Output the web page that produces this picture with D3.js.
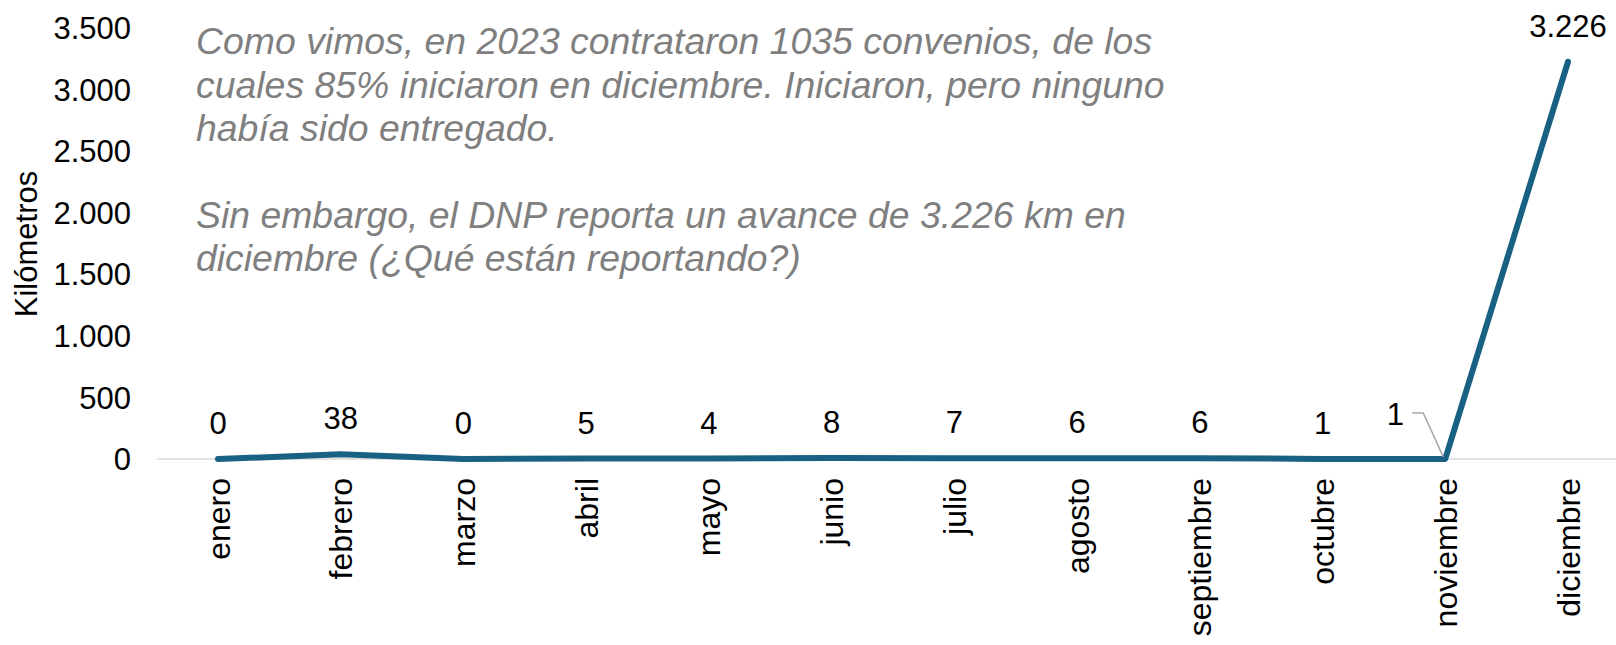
<!DOCTYPE html>
<html>
<head>
<meta charset="utf-8">
<script src="https://cdn.jsdelivr.net/npm/d3@7"></script>
<style>
  html, body { margin: 0; padding: 0; background: #fff; }
  svg { display: block; }
  text { font-family: "Liberation Sans", Arial, sans-serif; }
</style>
</head>
<body>
<svg id="chart" width="1616" height="645"></svg>
<script>
const months = ["enero","febrero","marzo","abril","mayo","junio","julio","agosto","septiembre","octubre","noviembre","diciembre"];
const kmValues = [0, 38, 0, 5, 4, 8, 7, 6, 6, 1, 1, 3226];
const valueLabels = ["0","38","0","5","4","8","7","6","6","1","1","3.226"];
const yTicks = [0, 500, 1000, 1500, 2000, 2500, 3000, 3500];
const yTickLabels = ["0","500","1.000","1.500","2.000","2.500","3.000","3.500"];
const yTitle = "Kilómetros";
const noteLines = [
  "Como vimos, en 2023 contrataron 1035 convenios, de los",
  "cuales 85% iniciaron en diciembre. Iniciaron, pero ninguno",
  "había sido entregado.",
  "",
  "Sin embargo, el DNP reporta un avance de 3.226 km en",
  "diciembre (¿Qué están reportando?)"
];

const svg = d3.select("#chart");
const W = 1616, H = 645;

const x = d3.scalePoint().domain(months).range([218, 1568]);
const y = d3.scaleLinear().domain([0, 3500]).range([459, 28]);

// zero gridline / axis
svg.append("line")
  .attr("x1", 157).attr("x2", W)
  .attr("y1", y(0)).attr("y2", y(0))
  .attr("stroke", "#d9d9d9").attr("stroke-width", 1.5);

// y tick labels
svg.append("g").selectAll("text")
  .data(yTicks)
  .join("text")
  .attr("x", 131)
  .attr("y", d => y(d))
  .attr("dy", "0.36em")
  .attr("text-anchor", "end")
  .attr("font-size", 31)
  .attr("fill", "#000")
  .text((d, i) => yTickLabels[i]);

// y title
svg.append("text")
  .attr("transform", `translate(26,244) rotate(-90)`)
  .attr("dy", "0.36em")
  .attr("text-anchor", "middle")
  .attr("font-size", 31)
  .attr("fill", "#000")
  .text(yTitle);

// x labels
svg.append("g").selectAll("text")
  .data(months)
  .join("text")
  .attr("transform", d => `translate(${x(d)},478) rotate(-90)`)
  .attr("dy", "0.36em")
  .attr("text-anchor", "end")
  .attr("font-size", 32)
  .attr("fill", "#000")
  .text(d => d);

// line
const data = months.map((m, i) => ({m, v: kmValues[i], label: valueLabels[i]}));
svg.append("path")
  .datum(data)
  .attr("fill", "none")
  .attr("stroke", "#186183")
  .attr("stroke-width", 6)
  .attr("stroke-linejoin", "round")
  .attr("stroke-linecap", "round")
  .attr("d", d3.line().x(d => x(d.m)).y(d => y(d.v)));

// data labels
const normal = data.filter(d => d.m !== "noviembre");
svg.append("g").selectAll("text")
  .data(normal)
  .join("text")
  .attr("x", d => x(d.m))
  .attr("y", d => y(d.v) - 36)
  .attr("dy", "0.36em")
  .attr("text-anchor", "middle")
  .attr("font-size", 31)
  .attr("fill", "#000")
  .text(d => d.label);

// noviembre label with leader line
const nov = data.find(d => d.m === "noviembre");
const px = x(nov.m), py = y(nov.v);
svg.append("path")
  .attr("d", `M${px - 33},${py - 46} L${px - 22},${py - 46} L${px - 2},${py - 2}`)
  .attr("fill", "none")
  .attr("stroke", "#a6a6a6")
  .attr("stroke-width", 1.5);
svg.append("text")
  .attr("x", px - 50)
  .attr("y", py - 45)
  .attr("dy", "0.36em")
  .attr("text-anchor", "middle")
  .attr("font-size", 31)
  .attr("fill", "#000")
  .text(nov.label);

// annotation text
svg.append("g").selectAll("text")
  .data(noteLines)
  .join("text")
  .attr("x", 196)
  .attr("y", (d, i) => 41 + i * 43.4)
  .attr("dy", "0.36em")
  .attr("font-size", 37.4)
  .attr("font-style", "italic")
  .attr("fill", "#7f7f7f")
  .text(d => d);
</script>
</body>
</html>
